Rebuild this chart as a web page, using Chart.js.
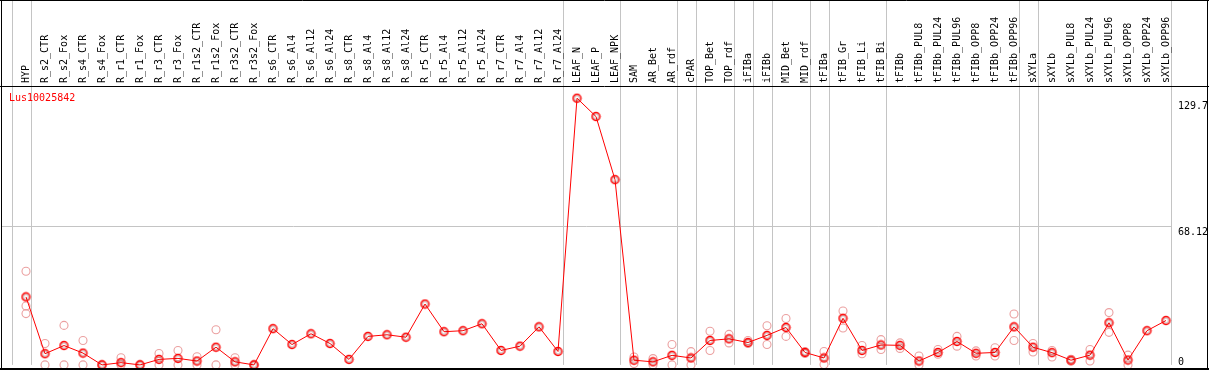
<!DOCTYPE html>
<html>
<head>
<meta charset="utf-8">
<script src="https://cdn.jsdelivr.net/npm/chart.js@4.4.1/dist/chart.umd.min.js"></script>
<style>
html,body{margin:0;padding:0;background:#fff;}
#wrap{position:relative;width:1209px;height:370px;}
</style>
</head>
<body>
<div id="wrap"><canvas id="c" width="1209" height="370"></canvas></div>
<script>
const geneName = "Lus10025842";
const categories = ["HYP","R_s2_CTR","R_s2_Fox","R_s4_CTR","R_s4_Fox","R_r1_CTR","R_r1_Fox","R_r3_CTR","R_r3_Fox","R_r1s2_CTR","R_r1s2_Fox","R_r3s2_CTR","R_r3s2_Fox","R_s6_CTR","R_s6_Al4","R_s6_Al12","R_s6_Al24","R_s8_CTR","R_s8_Al4","R_s8_Al12","R_s8_Al24","R_r5_CTR","R_r5_Al4","R_r5_Al12","R_r5_Al24","R_r7_CTR","R_r7_Al4","R_r7_Al12","R_r7_Al24","LEAF_N","LEAF_P","LEAF_NPK","SAM","AR_Bet","AR_rdf","cPAR","TOP_Bet","TOP_rdf","iFIBa","iFIBb","MID_Bet","MID_rdf","tFIBa","tFIB_Gr","tFIB_Li","tFIB_Bi","tFIBb","tFIBb_PUL8","tFIBb_PUL24","tFIBb_PUL96","tFIBb_OPP8","tFIBb_OPP24","tFIBb_OPP96","sXYLa","sXYLb","sXYLb_PUL8","sXYLb_PUL24","sXYLb_PUL96","sXYLb_OPP8","sXYLb_OPP24","sXYLb_OPP96"];
const meanValues = [33.4,5.5,9.5,5.8,0,1.1,0,2.7,3.2,1.9,8.7,1.5,0,17.8,10.0,15.3,10.5,2.7,14.0,14.8,13.6,29.9,16.3,16.8,20.2,7.1,9.2,18.7,6.6,131.0,122.0,91.0,2.3,1.5,4.7,3.4,12.0,12.8,11.0,14.5,18.4,6.1,3.4,22.9,7.1,9.8,9.6,1.9,6.1,11.5,5.7,6.1,18.7,8.7,6.0,2.3,4.8,20.7,2.4,16.8,21.8];
const replicateA = [46.0,10.5,19.4,12.0,0,3.5,0,5.6,7.1,4.0,17.3,3.5,0,null,null,null,null,null,null,null,null,null,null,null,null,null,null,null,null,null,null,null,3.9,3.1,10.0,6.5,16.5,15.0,12.0,19.2,22.8,6.6,6.6,26.5,9.5,12.4,10.8,4.4,7.6,14.0,4.4,8.4,25.0,10.5,7.1,2.8,7.6,25.7,4.8,null,null];
const replicateB = [28.9,0,0,0,0,0,0,0,0,0,0,0,0,null,null,null,null,null,null,null,null,null,null,null,null,null,null,null,null,null,null,null,0.7,0,0,0,7.1,10.8,10.5,10.0,14.0,5.6,0.2,18.1,5.5,7.6,8.1,0,5.2,9.2,6.9,4.4,12.0,6.3,3.9,1.8,1.9,16.0,0,null,null];
const replicateC = [25.2].concat(new Array(60).fill(null));
const yTickValues = [0, 68.12, 129.7];
const yTickLabels = ["0", "68.12", "129.7"];
const yGridValues = [68.12];
const separatorAfter = [-1,0,28,31,34,35,37,38,39,41,42,45,52,53,60];

const FONT = "10px 'DejaVu Sans Mono', monospace";
const GRAY = "#c4c4c4";

function mainPoint(){
  const c = document.createElement('canvas');
  c.width = 11; c.height = 11;
  const g = c.getContext('2d');
  g.strokeStyle = '#ff0000'; g.lineWidth = 1.4;
  g.beginPath(); g.arc(5.5,5.5,4,0,Math.PI*2); g.stroke();
  g.strokeStyle = 'rgba(90,0,0,0.55)'; g.lineWidth = 0.6;
  g.beginPath(); g.arc(5.5,5.5,2.6,0,Math.PI*2); g.stroke();
  return c;
}

const decor = {
  id: 'decor',
  beforeDatasetsDraw(chart){
    const ctx = chart.ctx, x = chart.scales.x, y = chart.scales.y;
    const W = chart.width;
    ctx.save();
    ctx.strokeStyle = GRAY; ctx.lineWidth = 1;
    const step = x.getPixelForValue(1) - x.getPixelForValue(0);
    separatorAfter.forEach(i => {
      const px = Math.round(x.getPixelForValue(0) + step*i + 4.5) + 0.5;
      ctx.beginPath(); ctx.moveTo(px, 0); ctx.lineTo(px, chart.chartArea.bottom); ctx.stroke();
    });
    const rightSep = Math.round(x.getPixelForValue(0) + step*60 + 4.5) + 0.5;
    yGridValues.forEach(v => {
      const py = Math.round(y.getPixelForValue(v)) + 0.5;
      ctx.beginPath(); ctx.moveTo(1, py); ctx.lineTo(rightSep, py); ctx.stroke();
    });
    // black frame
    ctx.strokeStyle = '#000'; ctx.lineWidth = 1;
    ctx.beginPath(); ctx.moveTo(0, 86.5); ctx.lineTo(W, 86.5); ctx.stroke();
    ctx.beginPath(); ctx.moveTo(1.5, 0); ctx.lineTo(1.5, 370); ctx.stroke();
    ctx.beginPath(); ctx.moveTo(1207.5, 0); ctx.lineTo(1207.5, 370); ctx.stroke();
    ctx.beginPath(); ctx.moveTo(0, 0.5); ctx.lineTo(W, 0.5); ctx.stroke();
    // category labels
    ctx.fillStyle = '#000'; ctx.font = FONT;
    ctx.textAlign = 'left'; ctx.textBaseline = 'middle';
    categories.forEach((lab, i) => {
      const px = x.getPixelForValue(i);
      ctx.save(); ctx.translate(px, 83); ctx.rotate(-Math.PI/2);
      ctx.fillText(lab, 0, 0); ctx.restore();
    });
    // y labels
    ctx.textBaseline = 'top';
    yTickValues.forEach((v, k) => {
      let py = y.getPixelForValue(v) + 1;
      if (py > 357) py = 357;
      ctx.fillText(yTickLabels[k], 1178, py);
    });
    // title
    ctx.fillStyle = '#ff0000'; ctx.textBaseline = 'middle';
    ctx.fillText(geneName, 9, 98);
    ctx.restore();
  },
  afterDatasetsDraw(chart){
    const ctx = chart.ctx;
    ctx.save();
    ctx.fillStyle = '#000';
    ctx.fillRect(0, 368, chart.width, 2);
    ctx.restore();
  }
};

const pale = '#eba0a0';
function repSet(arr){
  return {type:'line', data: arr, showLine:false, pointStyle:'circle', pointRadius:4, pointBorderWidth:1.1,
    pointBorderColor: pale, pointBackgroundColor:'rgba(0,0,0,0)', borderColor: pale, clip:false};
}

new Chart(document.getElementById('c'), {
  type: 'line',
  data: {
    labels: categories,
    datasets: [
      {data: meanValues, borderColor:'#ff0000', borderWidth:1, tension:0, pointStyle: mainPoint(), pointRadius:4, clip:false},
      repSet(replicateA), repSet(replicateB), repSet(replicateC)
    ]
  },
  options: {
    responsive:false, animation:false, devicePixelRatio:1,
    layout:{padding:{left:16.5, right:33.5, top:86, bottom:1}},
    plugins:{legend:{display:false}, tooltip:{enabled:false}},
    scales:{
      x:{type:'category', offset:true, display:false},
      y:{type:'linear', min:0, max:137, display:false}
    }
  },
  plugins:[decor]
});
</script>
</body>
</html>
